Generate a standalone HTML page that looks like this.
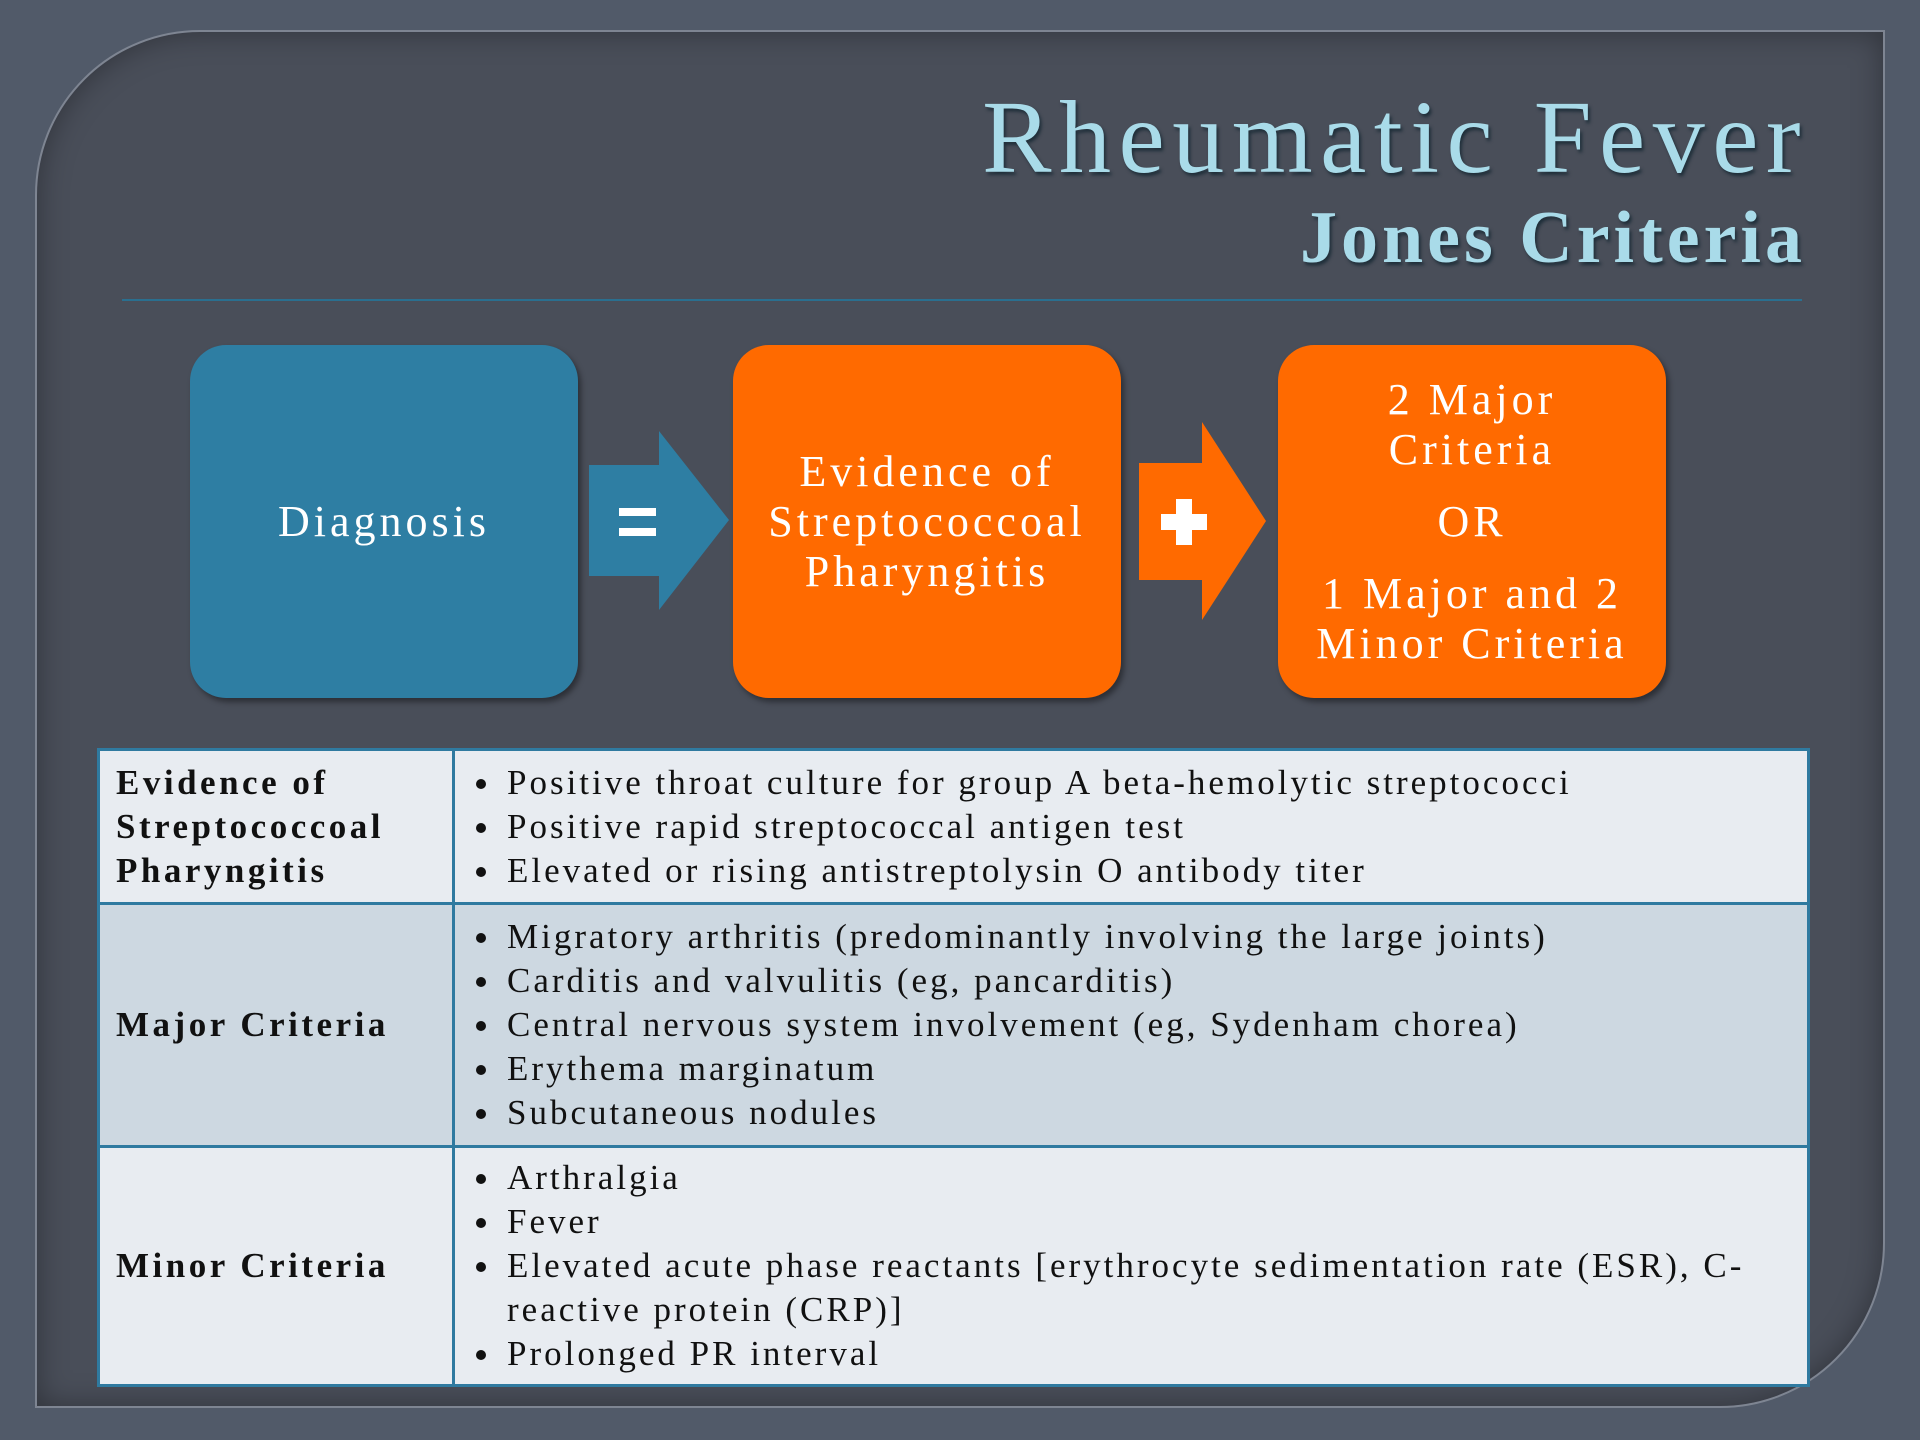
<!DOCTYPE html>
<html><head><meta charset="utf-8"><style>
body{margin:0;width:1920px;height:1440px;background:#515a69;position:relative;overflow:hidden;font-family:"Liberation Serif",serif}
.panel{position:absolute;left:35px;top:30px;width:1850px;height:1378px;background:#494e59;border:2px solid #7e8592;border-radius:165px 0 165px 0;box-sizing:border-box;box-shadow:inset 0 0 30px rgba(0,0,0,.35)}
.t1{position:absolute;right:112px;top:78px;font-size:104px;letter-spacing:7.5px;color:#a9dbe9;text-shadow:2px 3px 3px #1f2f3a;white-space:nowrap}
.t2{position:absolute;right:114px;top:196px;font-size:74px;letter-spacing:4px;font-weight:bold;color:#a9dbe9;text-shadow:2px 3px 3px #1f2f3a;white-space:nowrap}
.rule{position:absolute;left:122px;top:299px;width:1680px;height:2px;background:#2a6f8f}
.box{position:absolute;top:345px;width:388px;height:353px;border-radius:36px;display:flex;align-items:center;justify-content:center;text-align:center;color:#fff;font-size:44px;letter-spacing:4px;line-height:50px;box-shadow:3px 4px 6px rgba(0,0,0,.4)}
.blue{background:#2e7ea3}.orange{background:#ff6a00}
table{position:absolute;left:97px;top:748px;width:1713px;height:639px;border-collapse:collapse;font-size:35px;letter-spacing:3px;color:#111}
td{border:3px solid #2f7aa0;vertical-align:middle;padding:0}
td.l{width:336px;padding-left:16px;font-weight:bold;line-height:44px;letter-spacing:3.5px}
ul{margin:0;padding:0 0 0 48px;line-height:44px}
li{padding-left:4px}
.r1{background:#e8ecf1;height:154px}.r2{background:#cdd8e1;height:243px}.r3{background:#e8ecf1}
</style></head><body>
<div class="panel"></div>
<div class="t1">Rheumatic Fever</div>
<div class="t2">Jones Criteria</div>
<div class="rule"></div>
<div class="box blue" style="left:190px">Diagnosis</div>
<div class="box orange" style="left:733px">Evidence of<br>Streptococcoal<br>Pharyngitis</div>
<div class="box orange" style="left:1278px;flex-direction:column"><div>2 Major<br>Criteria</div><div style="margin:22px 0">OR</div><div>1 Major and 2<br>Minor Criteria</div></div>
<svg style="position:absolute;left:0;top:0" width="1920" height="1440">
<polygon points="589,465 659,465 659,431 729,520 659,610 659,576 589,576" fill="#2e7ea3"/>
<rect x="619" y="508" width="37" height="8" fill="#fff"/><rect x="619" y="528" width="37" height="8" fill="#fff"/>
<polygon points="1139,463 1202,463 1202,422 1266,521 1202,620 1202,580 1139,580" fill="#ff6a00"/>
<rect x="1161" y="514" width="46" height="16" fill="#fff"/><rect x="1176" y="499" width="16" height="46" fill="#fff"/>
</svg>
<table>
<tr class="r1"><td class="l">Evidence of<br>Streptococcoal<br>Pharyngitis</td><td><ul><li>Positive throat culture for group A beta-hemolytic streptococci</li><li>Positive rapid streptococcal antigen test</li><li>Elevated or rising antistreptolysin O antibody titer</li></ul></td></tr>
<tr class="r2"><td class="l">Major Criteria</td><td><ul><li>Migratory arthritis (predominantly involving the large joints)</li><li>Carditis and valvulitis (eg, pancarditis)</li><li>Central nervous system involvement (eg, Sydenham chorea)</li><li>Erythema marginatum</li><li>Subcutaneous nodules</li></ul></td></tr>
<tr class="r3"><td class="l">Minor Criteria</td><td><ul><li>Arthralgia</li><li>Fever</li><li style="white-space:nowrap">Elevated acute phase reactants [erythrocyte sedimentation rate (ESR), C-<br>reactive protein (CRP)]</li><li>Prolonged PR interval</li></ul></td></tr>
</table>
</body></html>
